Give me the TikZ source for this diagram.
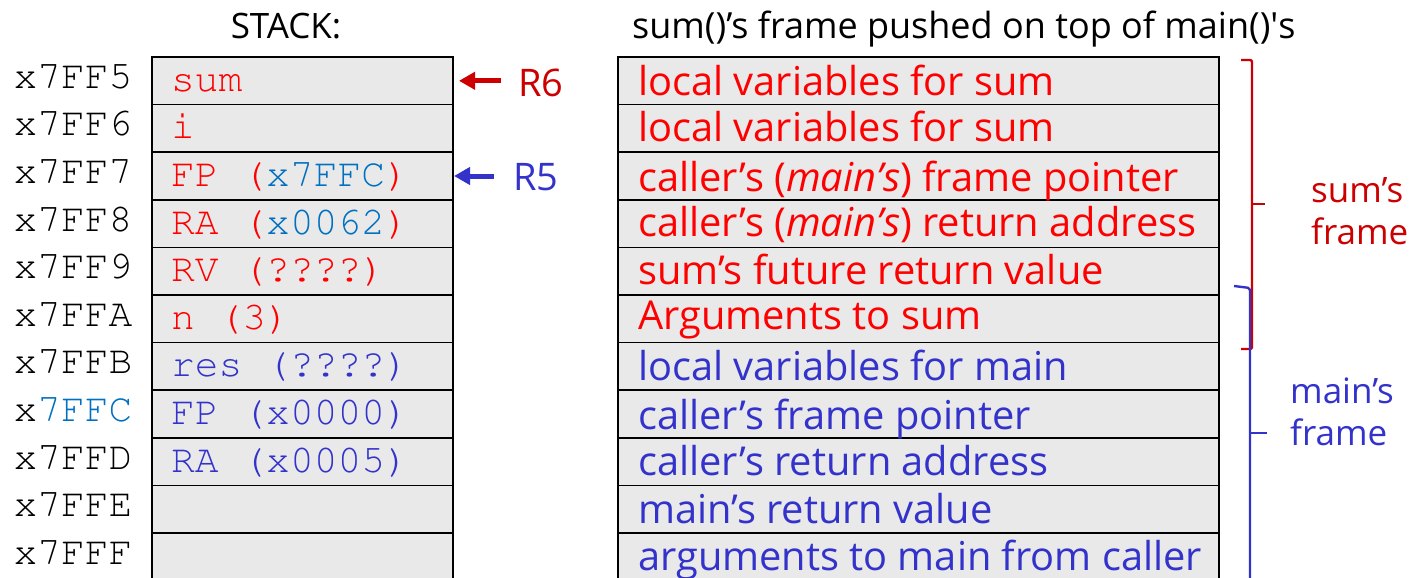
\documentclass[tikz,border=0pt]{standalone}
\usepackage[T1]{fontenc}
\usepackage{fontspec}
\setmainfont{Open Sans}
\usetikzlibrary{positioning,arrows.meta}
\newcommand\courfont{\fontencoding{T1}\fontfamily{pcr}\selectfont}
% a plain typewriter apostrophe, kept out of the TeX quote mapping
\newcommand\straightquote{{\XeTeXglyph\the\XeTeXcharglyph"0027\relax}}
\definecolor{cred}{RGB}{255,0,0}
\definecolor{dred}{RGB}{204,0,0}
\definecolor{cblue}{RGB}{51,51,204}
\definecolor{lblue}{RGB}{0,112,192}
\definecolor{cellgray}{RGB}{233,233,233}
\begin{document}
\begin{tikzpicture}[x=1pt,y=-1pt,
  cellbox/.style={draw=black, fill=cellgray, line width=1.6pt, outer sep=0pt,
    minimum height=47.6pt, inner sep=0pt},
  lcell/.style={cellbox, minimum width=301pt},
  rcell/.style={cellbox, minimum width=601pt},
  monotext/.style={inner sep=0pt, font=\courfont\fontsize{39.6}{40}\selectfont},
  ltext/.style={monotext, anchor=base west},
  rtext/.style={anchor=base west, inner sep=0pt, font=\fontsize{39.8}{42}\selectfont},
  addr/.style={monotext, anchor=base west},
  reglabel/.style={anchor=base west, inner sep=0pt, font=\fontsize{38}{40}\selectfont},
  regarrow/.style={-{Triangle[length=16pt,width=17pt]}, line width=5pt},
  heading/.style={inner sep=0pt, anchor=base, font=\fontsize{35}{40}\selectfont},
  framelabel/.style={anchor=west, inner sep=0pt, align=left, font=\fontsize{35}{42}\selectfont},
  bracket/.style={line width=2.4pt, rounded corners=2pt}
]
\useasboundingbox (0,0) rectangle (1413,578);

% headings
\node[heading] (stackhead) at (286,39) {STACK:};
\node[heading, anchor=base west, font=\fontsize{36}{40}\selectfont] (framehead) at (632,39)
  {sum()’s frame pushed on top of main()\straightquote s};

% memory cells of the stack
\node[lcell, anchor=north west] (s1) at (152,57) {};
\foreach \p/\n in {1/2,2/3,3/4,4/5,5/6,6/7,7/8,8/9,9/10,10/11}
  \node[lcell, below=0pt of s\p] (s\n) {};

% cell contents
\node[ltext] (t1) at ([xshift=19pt,yshift=-10.5pt]s1.west) {\color{cred}sum};
\node[ltext] (t2) at ([xshift=19pt,yshift=-10.5pt]s2.west) {\color{cred}i};
\node[ltext] (t3) at ([xshift=19pt,yshift=-10.5pt]s3.west) {\color{cred}FP (\textcolor{lblue}{x7FFC})};
\node[ltext] (t4) at ([xshift=19pt,yshift=-10.5pt]s4.west) {\color{cred}RA (\textcolor{lblue}{x0062})};
\node[ltext] (t5) at ([xshift=19pt,yshift=-10.5pt]s5.west) {\color{cred}RV (????)};
\node[ltext] (t6) at ([xshift=19pt,yshift=-10.5pt]s6.west) {\color{cred}n (3)};
\node[ltext] (t7) at ([xshift=19pt,yshift=-10.5pt]s7.west) {\color{cblue}res (????)};
\node[ltext] (t8) at ([xshift=19pt,yshift=-10.5pt]s8.west) {\color{cblue}FP (x0000)};
\node[ltext] (t9) at ([xshift=19pt,yshift=-10.5pt]s9.west) {\color{cblue}RA (x0005)};

% addresses
\foreach \n/\a in {1/5,2/6,3/7,4/8,5/9,6/A,7/B,9/D,10/E,11/F}
  \node[addr] (a\n) at ([yshift=-7.5pt]13.5,0 |- s\n.center) {x7FF\a};
\node[addr] (a8) at ([yshift=-7.5pt]13.5,0 |- s8.center) {x\textcolor{lblue}{7FFC}};

% register pointers
\coordinate (r6tail) at (501,0 |- s1.center);
\coordinate (r5tail) at (494,0 |- s3.center);
\node[reglabel, text=dred] (r6) at ([yshift=-16pt]518,0 |- s1.center) {R6};
\node[reglabel, text=cblue] (r5) at ([yshift=-14pt]513,0 |- s3.center) {R5};
\draw[regarrow, dred, shorten >=6pt] (r6tail) -- (s1.east |- r6tail);
\draw[regarrow, cblue, shorten >=1pt] (r5tail) -- (s3.east |- r5tail);

% frames
\node[rcell, anchor=north west] (f1) at (618,57) {};
\foreach \p/\n in {1/2,2/3,3/4,4/5,5/6,6/7,7/8,8/9,9/10,10/11}
  \node[rcell, below=0pt of f\p] (f\n) {};

\node[rtext] (g1) at ([xshift=20pt,yshift=-15pt]f1.west) {\color{cred}local variables for sum};
\node[rtext] (g2) at ([xshift=20pt,yshift=-13pt]f2.west) {\color{cred}local variables for sum};
\node[rtext] (g3) at ([xshift=20pt,yshift=-15pt]f3.west) {\color{cred}caller’s (\textit{main’s}) frame pointer};
\node[rtext] (g4) at ([xshift=20pt,yshift=-13pt]f4.west) {\color{cred}caller’s (\textit{main’s}) return address};
\node[rtext] (g5) at ([xshift=20pt,yshift=-13pt]f5.west) {\color{cred}sum’s future return value};
\node[rtext] (g6) at ([xshift=20pt,yshift=-11pt]f6.west) {\color{cred}Arguments to sum};
\node[rtext] (g7) at ([xshift=20pt,yshift=-14pt]f7.west) {\color{cblue}local variables for main};
\node[rtext] (g8) at ([xshift=20pt,yshift=-15pt]f8.west) {\color{cblue}caller’s frame pointer};
\node[rtext] (g9) at ([xshift=20pt,yshift=-14pt]f9.west) {\color{cblue}caller’s return address};
\node[rtext] (g10) at ([xshift=20pt,yshift=-14pt]f10.west) {\color{cblue}main’s return value};
\node[rtext] (g11) at ([xshift=20pt,yshift=-14pt]f11.west) {\color{cblue}arguments to main from caller};

% brackets marking each frame
\draw[bracket, dred] (1241,60) -- (1252,60) -- (1252,349) -- (1241,349);
\draw[dred, line width=2.4pt] (1252,204) -- (1265,204);
\draw[bracket, cblue] (1234,286) -- (1250,288) -- (1250,600);
\draw[cblue, line width=2.4pt] (1250,433) -- (1267,433);

\node[framelabel, text=dred] (sumframe) at (1311,211) {sum’s\\frame};
\node[framelabel, text=cblue] (mainframe) at (1290,412) {main’s\\frame};
\end{tikzpicture}
\end{document}
